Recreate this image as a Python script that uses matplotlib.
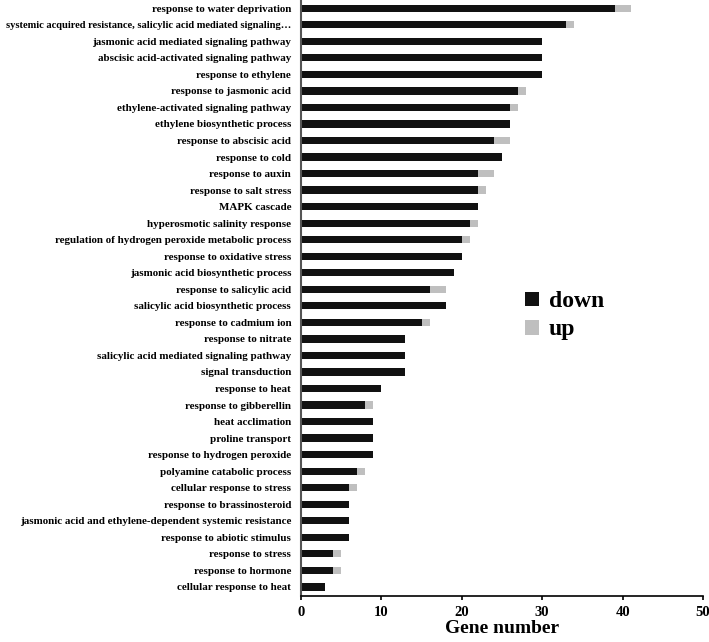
import matplotlib
matplotlib.use("Agg")
import matplotlib.pyplot as plt
import numpy as np

plt.rcParams['font.family'] = ['Liberation Serif', 'DejaVu Serif']
plt.rcParams['font.weight'] = 'bold'

# GO terms, top to bottom
terms = [
    "response to water deprivation",
    "systemic acquired resistance, salicylic acid mediated signaling\u2026",
    "jasmonic acid mediated signaling pathway",
    "abscisic acid-activated signaling pathway",
    "response to ethylene",
    "response to jasmonic acid",
    "ethylene-activated signaling pathway",
    "ethylene biosynthetic process",
    "response to abscisic acid",
    "response to cold",
    "response to auxin",
    "response to salt stress",
    "MAPK cascade",
    "hyperosmotic salinity response",
    "regulation of hydrogen peroxide metabolic process",
    "response to oxidative stress",
    "jasmonic acid biosynthetic process",
    "response to salicylic acid",
    "salicylic acid biosynthetic process",
    "response to cadmium ion",
    "response to nitrate",
    "salicylic acid mediated signaling pathway",
    "signal transduction",
    "response to heat",
    "response to gibberellin",
    "heat acclimation",
    "proline transport",
    "response to hydrogen peroxide",
    "polyamine catabolic process",
    "cellular response to stress",
    "response to brassinosteroid",
    "jasmonic acid and ethylene-dependent systemic resistance",
    "response to abiotic stimulus",
    "response to stress",
    "response to hormone",
    "cellular response to heat",
]

down = [39, 33, 30, 30, 30, 27, 26, 26, 24, 25, 22, 22, 22, 21, 20, 20, 19, 16, 18, 15,
        13, 13, 13, 10, 8, 9, 9, 9, 7, 6, 6, 6, 6, 4, 4, 3]
up = [2, 1, 0, 0, 0, 1, 1, 0, 2, 0, 2, 1, 0, 1, 1, 0, 0, 2, 0, 1,
      0, 0, 0, 0, 1, 0, 0, 0, 1, 1, 0, 0, 0, 1, 1, 0]

xticks = [0, 10, 20, 30, 40, 50]

fig = plt.figure(figsize=(7.09, 6.42), dpi=100)
ax = fig.add_axes([0.4245, 0.0717, 0.567, 0.9283])

y = np.arange(len(terms))
h = 0.44
ax.barh(y, down, height=h, color='#111111', label='down')
ax.barh(y, up, left=down, height=h, color='#bfbfbf', label='up')

ax.set_ylim(len(terms) - 0.45, -0.5)
ax.set_xlim(0, 50)
ax.set_yticks(y)
ax.set_yticklabels(terms, fontsize=7.9, fontweight='bold')
# the longest term is squeezed a little so it fits on the left edge
for lab in ax.get_yticklabels():
    if len(lab.get_text()) > 58:
        lab.set_fontsize(7.6)
ax.tick_params(axis='y', length=0, pad=7)
ax.set_xticks(xticks)
ax.set_xticklabels([str(t) for t in xticks], fontsize=10.5, fontweight='bold')
ax.tick_params(axis='x', length=3, width=1.2, pad=4, direction='out')

ax.spines['top'].set_visible(False)
ax.spines['right'].set_visible(False)
ax.spines['left'].set_color('#555555')
ax.spines['left'].set_linewidth(1.5)
ax.spines['bottom'].set_linewidth(1.2)

ax.set_xlabel("Gene number", fontsize=14, fontweight='bold', labelpad=1)

ax.legend(loc='center left', bbox_to_anchor=(0.505, 0.47), frameon=False,
          prop={'size': 17, 'weight': 'bold'}, handlelength=0.6, handleheight=0.6,
          handletextpad=0.4, labelspacing=0.3)

fig.savefig("out.png", dpi=100)
